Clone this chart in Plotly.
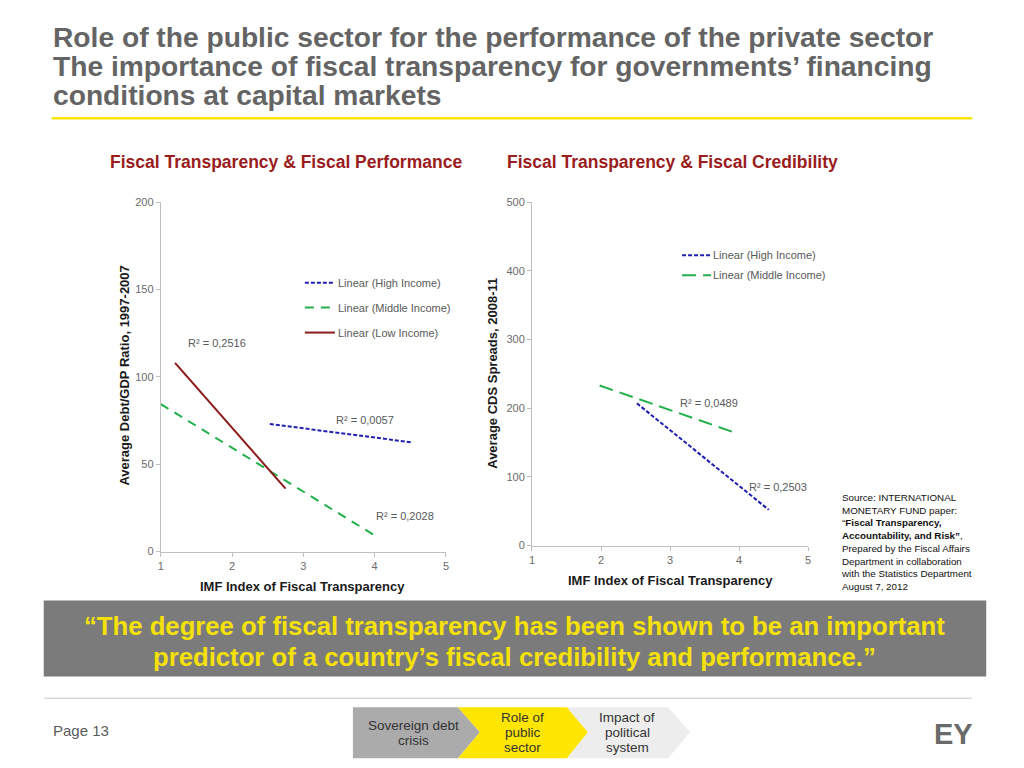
import plotly.graph_objects as go

W, H = 1024, 768

# ---------------- data ----------------
# Left chart: Fiscal Transparency & Fiscal Performance (trend lines)
left_high_x = [2.53, 4.52]
left_high_y = [73, 62.5]
left_mid_x = [1.0, 3.99]
left_mid_y = [84.4, 9.5]
left_low_x = [1.2, 2.75]
left_low_y = [108, 36]
left_r2 = ["R² = 0,2516", "R² = 0,0057", "R² = 0,2028"]
left_r2_x = [1.79, 3.86, 4.42]
left_r2_y = [119.6, 75, 20.5]

# Right chart: Fiscal Transparency & Fiscal Credibility (trend lines)
right_high_x = [2.52, 4.43]
right_high_y = [207, 52]
right_mid_x = [1.98, 3.95]
right_mid_y = [233, 164]
right_r2 = ["R² = 0,0489", "R² = 0,2503"]
right_r2_x = [3.57, 4.57]
right_r2_y = [208, 85]

x_ticks = [1, 2, 3, 4, 5]
left_y_ticks = [0, 50, 100, 150, 200]
right_y_ticks = [0, 100, 200, 300, 400, 500]

legend_left = ["Linear (High Income)", "Linear (Middle Income)", "Linear (Low Income)"]
legend_right = ["Linear (High Income)", "Linear (Middle Income)"]

BLUE = "#1F1FB4"
GREEN = "#22B04B"
RED = "#8B1A1A"
BLUE_DASH = "4px,2px"
GREEN_DASH_L = "9px,7px"
GREEN_DASH_R = "14px,7px"

# screen-pixel -> paper mapping (with a small correction for the page rendering)
SX, OX = 0.9936, 3.3
SY, OY = 0.9857, 4.7

def px(x):
    return ((x - OX) / SX) / W

def py(y):
    return 1 - ((y - OY) / SY) / H

FONT = "Liberation Sans, Arial"

fig = go.Figure()

# Left traces
fig.add_trace(go.Scatter(x=left_high_x, y=left_high_y, mode="lines",
                         line=dict(color=BLUE, width=2, dash=BLUE_DASH),
                         xaxis="x", yaxis="y", showlegend=False, hoverinfo="skip"))
fig.add_trace(go.Scatter(x=left_mid_x, y=left_mid_y, mode="lines",
                         line=dict(color=GREEN, width=2, dash=GREEN_DASH_L),
                         xaxis="x", yaxis="y", showlegend=False, hoverinfo="skip"))
fig.add_trace(go.Scatter(x=left_low_x, y=left_low_y, mode="lines",
                         line=dict(color=RED, width=2),
                         xaxis="x", yaxis="y", showlegend=False, hoverinfo="skip"))
# Right traces
fig.add_trace(go.Scatter(x=right_high_x, y=right_high_y, mode="lines",
                         line=dict(color=BLUE, width=2, dash=BLUE_DASH),
                         xaxis="x2", yaxis="y2", showlegend=False, hoverinfo="skip"))
fig.add_trace(go.Scatter(x=right_mid_x, y=right_mid_y, mode="lines",
                         line=dict(color=GREEN, width=2, dash=GREEN_DASH_R),
                         xaxis="x2", yaxis="y2", showlegend=False, hoverinfo="skip"))

annotations = []
shapes = []

tick_font = dict(family=FONT, size=11, color="#6b6b6b")
axis_title_font = dict(family=FONT, size=13, color="#1a1a1a")

# R² labels
r2_font = dict(family=FONT, size=11, color="#595959")
for t, x, y in zip(left_r2, left_r2_x, left_r2_y):
    annotations.append(dict(text=t, x=x, y=y, xref="x", yref="y", showarrow=False, font=r2_font))
for t, x, y in zip(right_r2, right_r2_x, right_r2_y):
    annotations.append(dict(text=t, x=x, y=y, xref="x2", yref="y2", showarrow=False, font=r2_font))

# Manual legends (paper coords)
leg_font = dict(family=FONT, size=11, color="#595959")
left_leg_styles = [(BLUE, BLUE_DASH), (GREEN, GREEN_DASH_L), (RED, "solid")]
left_leg_y = [281.7, 306.7, 331.7]
for name, (c, d), yy in zip(legend_left, left_leg_styles, left_leg_y):
    shapes.append(dict(type="line", xref="paper", yref="paper", x0=px(305), x1=px(335),
                       y0=py(yy), y1=py(yy), line=dict(color=c, width=2, dash=d)))
    annotations.append(dict(text=name, xref="paper", yref="paper", x=px(336), y=py(yy),
                            xanchor="left", yanchor="middle", showarrow=False, font=leg_font))
right_leg_styles = [(BLUE, BLUE_DASH), (GREEN, GREEN_DASH_R)]
right_leg_y = [254.3, 274.3]
for name, (c, d), yy in zip(legend_right, right_leg_styles, right_leg_y):
    shapes.append(dict(type="line", xref="paper", yref="paper", x0=px(682), x1=px(711),
                       y0=py(yy), y1=py(yy), line=dict(color=c, width=2, dash=d)))
    annotations.append(dict(text=name, xref="paper", yref="paper", x=px(711), y=py(yy),
                            xanchor="left", yanchor="middle", showarrow=False, font=leg_font))

# Chart titles
ct_font = dict(family=FONT, size=17.5, color="#9A1C1C")
annotations.append(dict(text="<b>Fiscal Transparency & Fiscal Performance</b>", xref="paper", yref="paper",
                        x=px(286), y=py(161), xanchor="center", yanchor="middle", showarrow=False, font=ct_font))
annotations.append(dict(text="<b>Fiscal Transparency & Fiscal Credibility</b>", xref="paper", yref="paper",
                        x=px(672), y=py(161), xanchor="center", yanchor="middle", showarrow=False, font=ct_font))

# Axis titles
annotations.append(dict(text="<b>IMF Index of Fiscal Transparency</b>", xref="paper", yref="paper",
                        x=px(303), y=py(586), xanchor="center", yanchor="middle", showarrow=False, font=axis_title_font))
annotations.append(dict(text="<b>IMF Index of Fiscal Transparency</b>", xref="paper", yref="paper",
                        x=px(670), y=py(580), xanchor="center", yanchor="middle", showarrow=False, font=axis_title_font))
annotations.append(dict(text="<b>Average Debt/GDP Ratio, 1997-2007</b>", xref="paper", yref="paper",
                        x=px(125), y=py(375), xanchor="center", yanchor="middle", textangle=-90,
                        showarrow=False, font=axis_title_font))
annotations.append(dict(text="<b>Average CDS Spreads, 2008-11</b>", xref="paper", yref="paper",
                        x=px(493), y=py(372), xanchor="center", yanchor="middle", textangle=-90,
                        showarrow=False, font=axis_title_font))

# Header title
title_lines = ["Role of the public sector for the performance of the private sector",
               "The importance of fiscal transparency for governments’ financing",
               "conditions at capital markets"]
for i, t in enumerate(title_lines):
    annotations.append(dict(text="<b>" + t + "</b>", xref="paper", yref="paper",
                            x=px(51), y=py(36 + i * 29), xanchor="left", yanchor="middle",
                            showarrow=False,
                            font=dict(family=FONT, size=28.2, color="#646464")))
shapes.append(dict(type="line", xref="paper", yref="paper", x0=px(52), x1=px(972),
                   y0=py(117), y1=py(117), line=dict(color="#FFE600", width=2.5)))

# Source text
src = ("Source: INTERNATIONAL<br>MONETARY FUND paper:<br>“<b>Fiscal Transparency,</b><br>"
       "<b>Accountability, and Risk”</b>,<br>Prepared by the Fiscal Affairs<br>"
       "Department in collaboration<br>with the Statistics Department<br>August 7, 2012")
annotations.append(dict(text=src, xref="paper", yref="paper", x=px(839), y=py(489),
                        xanchor="left", yanchor="top", align="left", showarrow=False,
                        font=dict(family=FONT, size=9.8, color="#111111")))

# Quote band
shapes.append(dict(type="rect", xref="paper", yref="paper", x0=px(44), x1=px(986),
                   y0=py(676), y1=py(600), fillcolor="#7B7B7B", line=dict(width=0), layer="below"))
quote_lines = ["“The degree of fiscal transparency has been shown to be an important",
               "predictor of a country’s fiscal credibility and performance.”"]
for i, t in enumerate(quote_lines):
    annotations.append(dict(text="<b>" + t + "</b>", xref="paper", yref="paper",
                            x=px(515), y=py(626 + i * 31), xanchor="center", yanchor="middle",
                            showarrow=False,
                            font=dict(family=FONT, size=25.7, color="#F5E10A")))

# Footer
shapes.append(dict(type="line", xref="paper", yref="paper", x0=px(44), x1=px(972),
                   y0=py(698), y1=py(698), line=dict(color="#D9D9D9", width=1.5)))
annotations.append(dict(text="Page 13", xref="paper", yref="paper", x=px(51), y=py(730),
                        xanchor="left", yanchor="middle", showarrow=False,
                        font=dict(family=FONT, size=15, color="#5a5a5a")))
annotations.append(dict(text="<b>EY</b>", xref="paper", yref="paper", x=px(953.5), y=py(734),
                        xanchor="center", yanchor="middle", showarrow=False,
                        font=dict(family=FONT, size=29, color="#6a6a6a")))

# Chevrons
def poly(points):
    return "M " + " L ".join(f"{px(a)},{py(b)}" for a, b in points) + " Z"

chev_top, chev_mid, chev_bot = 707, 732, 758
shapes.append(dict(type="path", xref="paper", yref="paper",
                   path=poly([(353, chev_top), (458, chev_top), (480, chev_mid), (458, chev_bot), (353, chev_bot)]),
                   fillcolor="#ABABAB", line=dict(width=0)))
shapes.append(dict(type="path", xref="paper", yref="paper",
                   path=poly([(458, chev_top), (567, chev_top), (588, chev_mid), (567, chev_bot), (458, chev_bot), (480, chev_mid)]),
                   fillcolor="#FFE600", line=dict(width=0)))
shapes.append(dict(type="path", xref="paper", yref="paper",
                   path=poly([(567, chev_top), (668, chev_top), (690, chev_mid), (668, chev_bot), (567, chev_bot), (588, chev_mid)]),
                   fillcolor="#EDEDED", line=dict(width=0)))
chev_font = dict(family=FONT, size=13.5, color="#333333")
chev_texts = [(["Sovereign debt", "crisis"], 414, [725, 740]),
              (["Role of", "public", "sector"], 523, [717, 732, 747]),
              (["Impact of", "political", "system"], 627, [717, 732, 747])]
for lines, xc, ys in chev_texts:
    for t, yy in zip(lines, ys):
        annotations.append(dict(text=t, xref="paper", yref="paper", x=px(xc), y=py(yy),
                                xanchor="center", yanchor="middle", showarrow=False, font=chev_font))

axis_common = dict(showgrid=False, zeroline=False, showline=True, linecolor="#BFBFBF", linewidth=1,
                   ticks="outside", ticklen=4, tickcolor="#BFBFBF", tickfont=tick_font)

fig.update_layout(
    width=W, height=H,
    margin=dict(l=0, r=0, t=0, b=0),
    paper_bgcolor="white", plot_bgcolor="white",
    showlegend=False,
    xaxis=dict(domain=[px(161), px(446)], range=[1, 5], tickvals=x_ticks, anchor="y", **axis_common),
    yaxis=dict(domain=[py(551), py(201)], range=[0, 200], tickvals=left_y_ticks, anchor="x", **axis_common),
    xaxis2=dict(domain=[px(532), px(808)], range=[1, 5], tickvals=x_ticks, anchor="y2", **axis_common),
    yaxis2=dict(domain=[py(545), py(201)], range=[0, 500], tickvals=right_y_ticks, anchor="x2", **axis_common),
    annotations=annotations,
    shapes=shapes,
)

fig.write_html("out.html", config={"displayModeBar": False},
               post_script="document.body.style.margin='0';document.body.style.overflow='hidden';")
